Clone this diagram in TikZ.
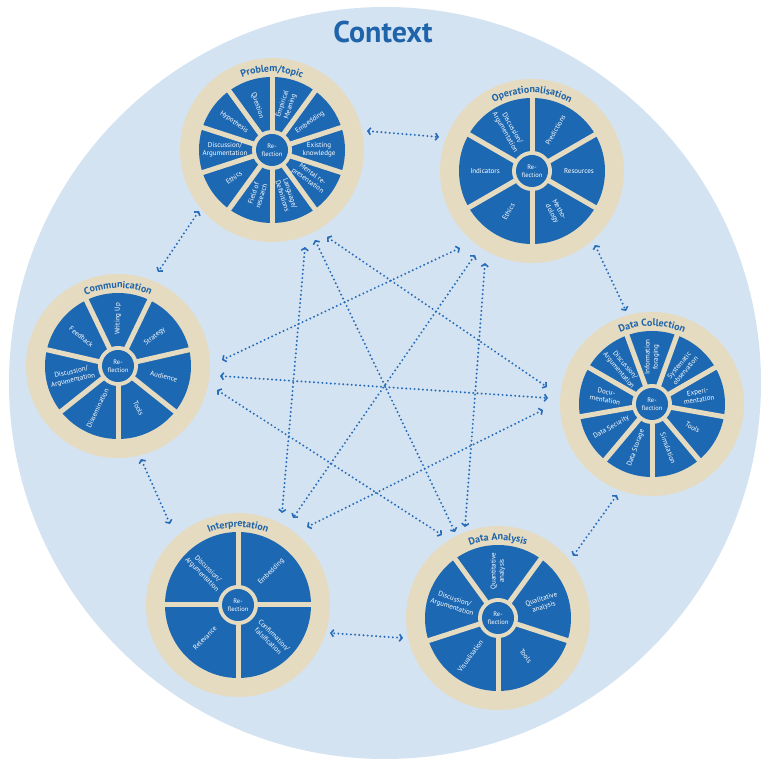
\documentclass[tikz,border=0pt]{standalone}
\usepackage{fontspec}
\setmainfont{PT Sans}
\usetikzlibrary{arrows.meta,decorations.text,calc}
\definecolor{bgblue}{RGB}{212,227,242}
\definecolor{beige}{RGB}{229,219,193}
\definecolor{wblue}{RGB}{29,104,178}
\definecolor{tblue}{RGB}{31,100,170}
\definecolor{ablue}{RGB}{38,108,184}
\newcounter{labcnt}
\newcommand{\wtitlefont}{\fontsize{10}{10}\selectfont\bfseries}
\newcommand{\wlab}[3]{%
  \stepcounter{labcnt}%
  \pgfmathsetmacro{\labrot}{cos(#2)<-0.01 ? #2+180 : #2}%
  \node[seclab, rotate=\labrot] (lab\arabic{labcnt}) at ($(#1.center)+(#2:47)$) {#3};%
}
\newcommand{\wheel}[4]{%
  \node[outerdisc] (#1) at (#2) {};
  \fill[wblue] (#1.center) circle[radius=73];
  \foreach \s in {#3} \draw[beige, line width=5] (#1.center) -- ++(\s:75);
  \fill[beige] (#1.center) circle[radius=20];
  \node[refl] (#1-r) at (#1.center) {Re-\\flection};
  \path[decorate, decoration={text along path, text align=center, text color=tblue, text={|\wtitlefont|#4}}]
    ($(#1.center)+(165:78)$) arc[start angle=165, end angle=15, radius=78];
}
\tikzset{
  outerdisc/.style={circle, fill=beige, minimum size=184, inner sep=0},
  refl/.style={circle, fill=wblue, minimum size=32, inner sep=0, text=white, align=center, font=\fontsize{6.5}{7.6}\selectfont},
  seclab/.style={text=white, align=center, inner sep=0, font=\fontsize{7}{8.2}\selectfont},
  conn/.style={draw=ablue, line width=2.2pt, dash pattern=on 0pt off 4.2pt, line cap=round,
    {Straight Barb[length=2.6pt,width=7pt,line width=1.6pt]}-{Straight Barb[length=2.6pt,width=7pt,line width=1.6pt]}}
}
\begin{document}
\begin{tikzpicture}[x=1pt,y=1pt]
\useasboundingbox (0,0) rectangle (761,765);
\begin{scope}
\clip (0,0) rectangle (761,765);
\fill[bgblue] (385,382) circle[radius=376];
\end{scope}
\node[font=\fontsize{30}{30}\selectfont\bfseries, text=tblue] (ctx) at (383,733) {Context};

% Problem/topic
\wheel{P}{272,615}{90,54,18,-18,-54,-90,-126,-162,162,126}{Problem/topic}
\wlab{P}{108}{Question}
\wlab{P}{72}{Empirical\\Meaning}
\wlab{P}{36}{Embedding}
\wlab{P}{0}{Existing\\knowledge}
\wlab{P}{-36}{Mental re-\\presentation}
\wlab{P}{-72}{Language/\\Definitions}
\wlab{P}{-108}{Field of\\research}
\wlab{P}{-144}{Ethics}
\wlab{P}{180}{Discussion/\\Argumentation}
\wlab{P}{144}{Hypothesis}

% Operationalisation
\wheel{O}{532,594}{90,30,-30,-90,-150,150}{Operationalisation}
\wlab{O}{60}{Predictions}
\wlab{O}{0}{Resources}
\wlab{O}{-60}{Metho-\\dology}
\wlab{O}{-120}{Ethics}
\wlab{O}{180}{Indicators}
\wlab{O}{120}{Discussion/\\Argumentation}

% Data Collection
\wheel{DC}{652,361}{-90,-50,-10,30,70,110,150,190,230}{Data Collection}
\wlab{DC}{90}{Information\\foraging}
\wlab{DC}{50}{Systematic\\observation}
\wlab{DC}{10}{Experi-\\mentation}
\wlab{DC}{-30}{Tools}
\wlab{DC}{-70}{Simulation}
\wlab{DC}{-110}{Data Storage}
\wlab{DC}{-150}{Data Security}
\wlab{DC}{170}{Docu-\\mentation}
\wlab{DC}{130}{Discussion/\\Argumentation}

% Data Analysis
\wheel{DA}{498,147}{-90,-18,54,126,198}{Data Analysis}
\wlab{DA}{90}{Quantitative\\analysis}
\wlab{DA}{18}{Qualitative\\analysis}
\wlab{DA}{-54}{Tools}
\wlab{DA}{-126}{Visualisation}
\wlab{DA}{162}{Discussion/\\Argumentation}

% Interpretation
\wheel{I}{238,160}{0,90,180,270}{Interpretation}
\wlab{I}{45}{Embedding}
\wlab{I}{135}{Discussion/\\Argumentation}
\wlab{I}{225}{Relevance}
\wlab{I}{315}{Confirmation/\\falsification}

% Communication
\wheel{C}{118,399}{-90,-38.57,12.86,64.29,115.71,167.14,218.57}{Communication}
\wlab{C}{90}{Writing Up}
\wlab{C}{38.57}{Strategy}
\wlab{C}{-12.86}{Audience}
\wlab{C}{-64.29}{Tools}
\wlab{C}{-115.71}{Dissemination}
\wlab{C}{192.86}{Discussion/\\Argumentation}
\wlab{C}{141.43}{Feedback}

% connector end points
\coordinate (PtoO) at (367,634);   \coordinate (OtoP) at (439,628);
\coordinate (PtoC) at (199,554);   \coordinate (CtoP) at (158,493);
\coordinate (OtoDC) at (595,520);  \coordinate (DCtoO) at (626,454);
\coordinate (DCtoDA) at (617,270); \coordinate (DAtoDC) at (573,209);
\coordinate (DAtoI) at (403,127);  \coordinate (ItoDA) at (330,132);
\coordinate (ItoC) at (170,241);   \coordinate (CtoI) at (141,306);
\coordinate (PtoI) at (305,518);   \coordinate (ItoP) at (282,252);
\coordinate (PtoDA) at (315,525);  \coordinate (DAtoP) at (455,233);
\coordinate (PtoDC) at (327,528);  \coordinate (DCtoP) at (547,378);
\coordinate (OtoC) at (460,517);   \coordinate (CtoO) at (222,405);
\coordinate (OtoI) at (475,510);   \coordinate (ItoO) at (293,247);
\coordinate (OtoDA) at (485,502);  \coordinate (DAtoO) at (465,238);
\coordinate (CtoDC) at (220,389);  \coordinate (DCtoC) at (548,367);
\coordinate (CtoDA) at (217,375);  \coordinate (DAtoC) at (442,230);
\coordinate (DCtoI) at (543,355);  \coordinate (ItoDC) at (307,238);

\draw[conn] (PtoO) -- (OtoP);
\draw[conn] (PtoC) -- (CtoP);
\draw[conn] (OtoDC) -- (DCtoO);
\draw[conn] (DCtoDA) -- (DAtoDC);
\draw[conn] (DAtoI) -- (ItoDA);
\draw[conn] (ItoC) -- (CtoI);
\draw[conn] (PtoI) -- (ItoP);
\draw[conn] (PtoDA) -- (DAtoP);
\draw[conn] (PtoDC) -- (DCtoP);
\draw[conn] (OtoC) -- (CtoO);
\draw[conn] (OtoI) -- (ItoO);
\draw[conn] (OtoDA) -- (DAtoO);
\draw[conn] (CtoDC) -- (DCtoC);
\draw[conn] (CtoDA) -- (DAtoC);
\draw[conn] (DCtoI) -- (ItoDC);
\end{tikzpicture}
\end{document}
